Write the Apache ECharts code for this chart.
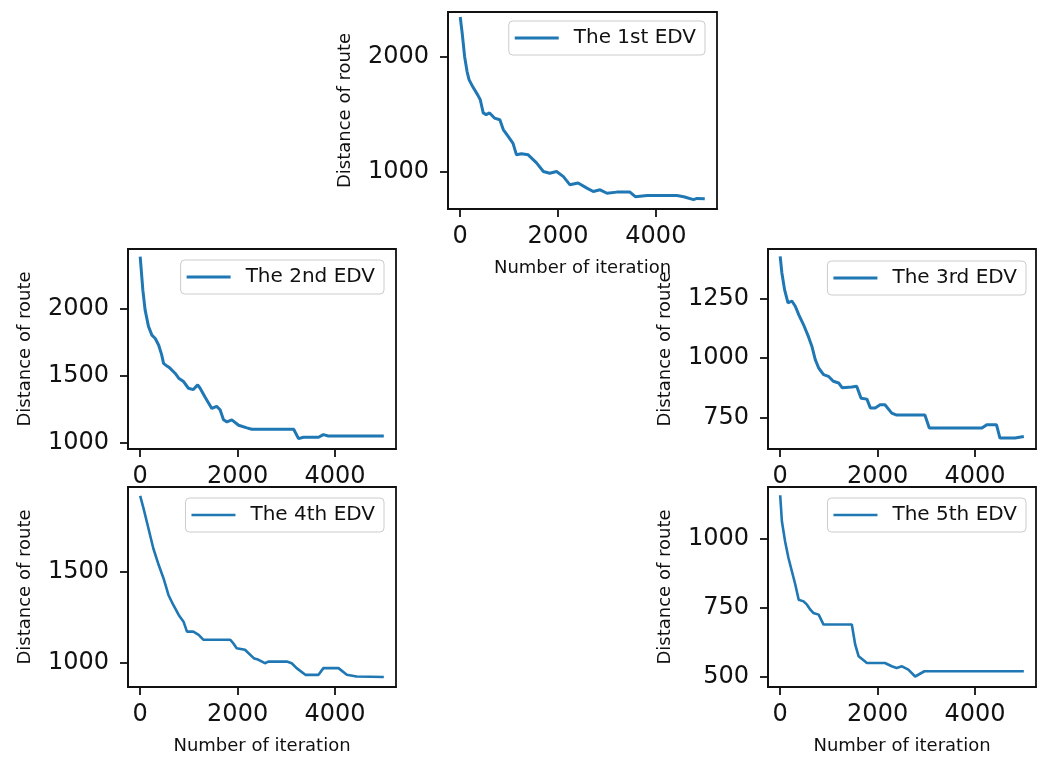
<!DOCTYPE html>
<html><head><meta charset="utf-8">
<script src="https://cdn.jsdelivr.net/npm/echarts@6/dist/echarts.min.js"></script>
<style>html,body{margin:0;padding:0;background:#fff}#c{width:1043px;height:759px}</style>
</head><body><div id="c"></div>
<script>
// ---- data ----
const seriesNames = ['The 1st EDV', 'The 2nd EDV', 'The 3rd EDV', 'The 4th EDV', 'The 5th EDV'];
const xTickValues = [0, 2000, 4000];
const xAxisName = 'Number of iteration';
const yAxisName = 'Distance of route';

const iter1 = [0,40,90,140,180,260,360,410,470,530,600,700,810,880,980,1080,1150,1250,1390,1560,1700,1830,1970,2110,2240,2410,2590,2720,2860,3000,3200,3470,3580,3820,4430,4570,4770,4840,5000];
const dist1 = [2350,2210,2005,1875,1805,1740,1670,1630,1515,1500,1515,1470,1455,1370,1310,1250,1150,1160,1150,1080,1005,990,1005,960,890,905,860,830,845,815,825,825,785,795,795,785,760,770,768];

const iter2 = [0,55,100,170,240,310,380,440,480,550,610,720,790,890,990,1090,1180,1230,1330,1470,1570,1640,1710,1780,1880,2020,2190,2290,2530,3150,3250,3350,3660,3760,3860,5000];
const dist2 = [2385,2135,1990,1865,1800,1775,1725,1655,1590,1570,1555,1515,1480,1455,1405,1395,1430,1405,1340,1255,1270,1245,1170,1155,1170,1130,1110,1100,1100,1100,1030,1040,1040,1060,1050,1050];

const iter3 = [0,35,90,160,240,310,380,480,580,650,720,790,890,990,1090,1200,1270,1470,1570,1660,1780,1850,1950,2050,2150,2290,2390,2970,3060,4140,4240,4440,4510,4820,5000];
const dist3 = [1428,1358,1288,1232,1240,1218,1183,1140,1090,1050,993,958,930,923,902,895,875,878,881,831,827,790,790,803,803,768,760,760,705,705,719,719,663,663,670];

const iter4 = [0,70,170,270,380,480,580,680,790,890,960,1090,1200,1300,1500,1850,1910,1980,2150,2330,2430,2560,2630,3010,3110,3210,3390,3660,3760,4070,4240,4440,5000];
const dist4 = [1918,1848,1738,1628,1537,1463,1372,1317,1262,1225,1170,1170,1152,1125,1125,1125,1106,1079,1070,1024,1015,996,1005,1005,996,969,932,932,969,969,932,923,920];

const iter5 = [0,35,100,170,240,310,380,480,550,620,680,790,890,1200,1470,1540,1610,1780,2150,2290,2390,2500,2630,2770,2960,3250,5000];
const dist5 = [1158,1064,992,931,883,835,780,774,762,744,732,726,690,690,690,617,575,551,551,539,533,539,527,502,521,521,521];

const yTicks1 = [1000, 2000];
const yTicks2 = [1000, 1500, 2000];
const yTicks3 = [750, 1000, 1250];
const yTicks4 = [1000, 1500];
const yTicks5 = [500, 750, 1000];

const iters = [iter1, iter2, iter3, iter4, iter5];
const dists = [dist1, dist2, dist3, dist4, dist5];
const yTicks = [yTicks1, yTicks2, yTicks3, yTicks4, yTicks5];

// ---- layout (positions / extents) ----
const layout = [
  {grid:{left:448,top:12,width:269,height:197}, y:[678,2394], legend:{right:338,top:21}, xName:true},
  {grid:{left:128,top:249,width:268,height:200}, y:[953,2441], legend:{right:659,top:260}, xName:false},
  {grid:{left:768,top:249,width:268,height:200}, y:[617,1459], legend:{right:17,top:261}, xName:false},
  {grid:{left:128,top:487,width:268,height:200}, y:[865,1967], legend:{right:659,top:498}, xName:true},
  {grid:{left:768,top:487,width:268,height:200}, y:[464,1188], legend:{right:17,top:498}, xName:true}
];

const FONT = 'DejaVu Sans';
const TXT = '#111';
const LINE = '#1f77b4';
const plain = v => String(Math.round(v));

const option = {animation:false, backgroundColor:'#fff', grid:[], xAxis:[], yAxis:[], series:[], legend:[]};
layout.forEach((L, i) => {
  option.grid.push(Object.assign({show:true, borderColor:'#111', borderWidth:1.8, backgroundColor:'#fff', containLabel:false}, L.grid));
  option.xAxis.push({
    type:'value', gridIndex:i, min:-250, max:5250,
    name: L.xName ? xAxisName : '', nameLocation:'middle', nameGap:50,
    nameTextStyle:{fontFamily:FONT, fontSize:18, color:TXT},
    axisLine:{show:true, onZero:false, lineStyle:{color:'#111', width:1.8}},
    axisTick:{show:true, length:8, customValues:xTickValues, lineStyle:{color:'#111', width:1.8}},
    axisLabel:{show:true, customValues:xTickValues, formatter:plain, margin:16, fontFamily:FONT, fontSize:24, color:TXT},
    splitLine:{show:false}
  });
  option.yAxis.push({
    type:'value', gridIndex:i, min:L.y[0], max:L.y[1],
    name: yAxisName, nameLocation:'middle', nameGap:94,
    nameTextStyle:{fontFamily:FONT, fontSize:18, color:TXT},
    axisLine:{show:true, onZero:false, lineStyle:{color:'#111', width:1.8}},
    axisTick:{show:true, length:8, customValues:yTicks[i], lineStyle:{color:'#111', width:1.8}},
    axisLabel:{show:true, customValues:yTicks[i], formatter:plain, margin:19, fontFamily:FONT, fontSize:24, color:TXT},
    splitLine:{show:false}
  });
  option.series.push({
    type:'line', name:seriesNames[i], xAxisIndex:i, yAxisIndex:i,
    data: iters[i].map((x, k) => [x, dists[i][k]]),
    showSymbol:false, symbol:'none',
    lineStyle:{color:LINE, width: i < 3 ? 3 : 2.6}, itemStyle:{color:LINE}
  });
  option.legend.push({
    data:[seriesNames[i]], right:L.legend.right, top:L.legend.top,
    orient:'vertical', icon:'rect', itemWidth:44, itemHeight: i < 3 ? 3.2 : 2.6,
    padding:[7,9,7,6], backgroundColor:'rgba(255,255,255,0.9)',
    borderColor:'#cccccc', borderWidth:1, borderRadius:4,
    selectedMode:false,
    textStyle:{fontFamily:FONT, fontSize:20, color:TXT, padding:[0,0,0,10]}
  });
});

const chart = echarts.init(document.getElementById('c'), null, {renderer:'canvas'});
chart.setOption(option);
</script>
</body></html>
